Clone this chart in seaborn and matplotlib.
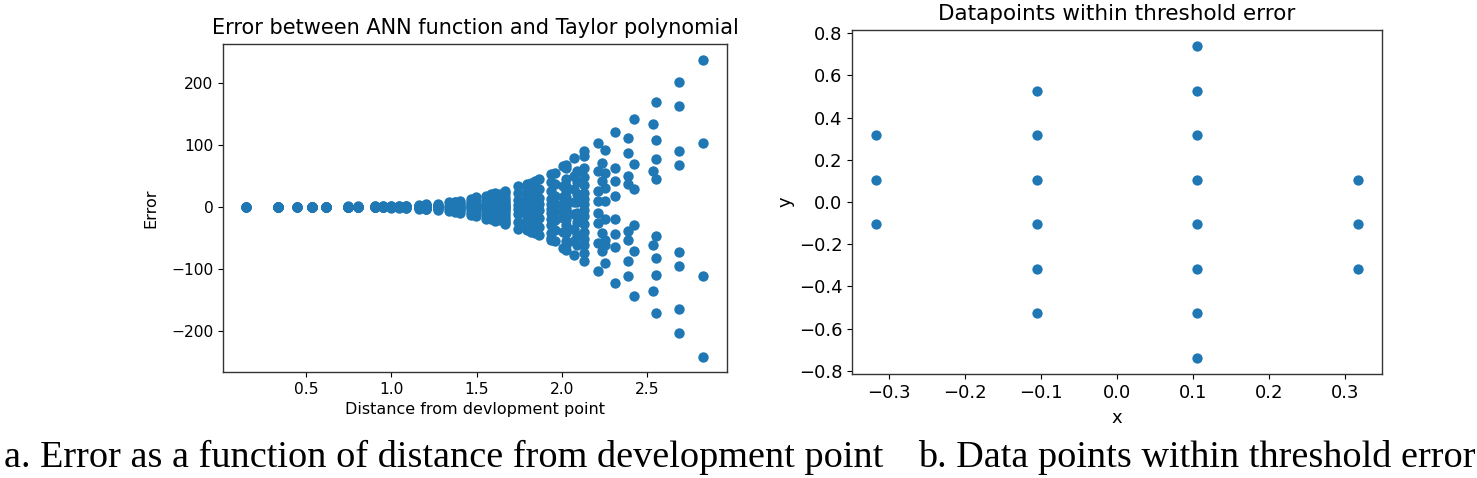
import matplotlib
matplotlib.use("Agg")
import matplotlib.pyplot as plt
import seaborn as sns
import numpy as np
import pandas as pd

# ---------------- data: left panel (distance, list of errors at that distance) ----------------
dist_levels = [0.149, 0.333, 0.447, 0.537, 0.614, 0.744, 0.802, 0.905, 0.953, 0.999,
               1.042, 1.084, 1.163, 1.200, 1.272, 1.340, 1.372, 1.404, 1.466, 1.496,
               1.554, 1.582, 1.610, 1.637, 1.664, 1.742, 1.792, 1.817, 1.841, 1.865,
               1.935, 1.958, 2.003, 2.025, 2.068, 2.089, 2.131, 2.213, 2.233, 2.253,
               2.311, 2.386, 2.423, 2.531, 2.548, 2.684, 2.828]

error_levels = [
    [0.0, 0.0, 0.0, 0.0],
    [0.1, -0.1, 0.1, -0.1, 0.0, 0.0, 0.1, -0.1],
    [0.2, -0.2, 0.1, -0.1],
    [0.3, -0.3, 0.2, -0.2, 0.1, -0.1, 0.0, 0.0],
    [0.4, -0.4, 0.3, -0.3, 0.1, -0.1, 0.2, -0.2],
    [0.6, 0.4, 0.3, 0.1, 0.0, 0.0, -0.1, -0.2, -0.3, -0.4, -0.5, -0.6],
    [0.7, 0.4, 0.2, 0.0, 0.0, -0.2, -0.4, -0.7],
    [0.9, 0.5, 0.2, 0.0, 0.0, -0.2, -0.5, -0.9],
    [1.0, 0.6, 0.2, 0.0, 0.0, -0.2, -0.6, -1.0],
    [1.2, 0.8, 0.3, 0.0, 0.0, -0.3, -0.8, -1.2],
    [1.5, 0.5, -0.5, -1.5],
    [2.0, 1.5, 0.5, 0.0, 0.0, -0.5, -1.5, -2.0],
    [3.0, 2.0, 1.0, 0.0, 0.0, -1.0, -2.0, -3.0],
    [4.0, 3.5, 3.0, 2.0, 1.5, 1.0, 0.5, 0.0, 0.0, -0.5, -1.0, -1.5, -2.0, -3.0, -3.5, -4.0],
    [5.0, 3.0, 1.0, 0.0, 0.0, -1.0, -3.0, -5.0],
    [7.0, 2.0, -2.0, -7.0],
    [8.0, 7.0, 5.0, 3.0, 2.0, 1.0, 0.0, 0.0, 0.0, -1.0, -2.0, -3.0, -5.0, -6.0, -7.0, -8.0],
    [10.0, 6.0, 3.0, 0.0, -1.0, -4.0, -6.0, -10.0],
    [13.0, 8.0, 4.0, 1.0, -1.0, -4.0, -8.0, -13.0],
    [15.0, 9.0, 4.0, 1.0, -1.0, -4.0, -9.0, -15.0],
    [18.0, 11.0, 5.0, 1.0, -1.0, -5.0, -11.0, -19.0],
    [20.0, 13.0, 6.0, 1.0, -1.0, -6.0, -13.0, -20.0],
    [22.0, 14.0, 6.0, 1.0, -2.0, -8.0, -15.0, -23.0],
    [20.0, 6.0, -7.0, -21.0],
    [26.0, 22.0, 16.0, 11.0, 7.0, 4.0, 1.0, 0.0, -1.0, -4.0, -7.0, -11.0, -16.0, -21.0, -24.0, -27.0],
    [34.0, 22.0, 11.0, 3.0, -3.0, -12.0, -24.0, -35.0],
    [37.0, 31.0, 23.0, 15.0, 9.0, 5.0, 2.0, 0.0, -1.0, -4.0, -8.0, -13.0, -20.0, -27.0, -33.0, -38.0],
    [39.0, 22.0, 10.0, 2.0, -4.0, -13.0, -26.0, -40.0],
    [41.0, 25.0, 12.0, 3.0, -5.0, -15.0, -28.0, -42.0],
    [44.0, 28.0, 14.0, 4.0, -6.0, -18.0, -32.0, -45.0],
    [52.0, 40.0, 25.0, 12.0, 4.0, -3.0, -10.0, -20.0, -30.0, -42.0, -50.0, -53.0],
    [55.0, 36.0, 18.0, 5.0, -8.0, -22.0, -38.0, -55.0],
    [65.0, 33.0, 15.0, 5.0, -6.0, -18.0, -40.0, -66.0],
    [68.0, 62.0, 45.0, 33.0, 25.0, 15.0, 8.0, 2.0, -4.0, -12.0, -20.0, -30.0, -42.0, -55.0, -61.0, -69.0],
    [79.0, 50.0, 28.0, 8.0, -12.0, -35.0, -55.0, -77.0],
    [57.0, 40.0, 20.0, 8.0, -10.0, -25.0, -45.0, -62.0],
    [90.0, 82.0, 62.0, 48.0, 35.0, 22.0, 12.0, 4.0, -6.0, -15.0, -28.0, -40.0, -52.0, -61.0, -75.0, -88.0],
    [103.0, 57.0, 25.0, 9.0, -10.0, -26.0, -58.0, -103.0],
    [71.0, 41.0, -42.0, -72.0],
    [92.0, 55.0, 30.0, 10.0, -20.0, -53.0, -61.0, -90.0],
    [120.0, 62.0, 42.0, 17.0, -19.0, -44.0, -65.0, -122.0],
    [111.0, 87.0, 49.0, 36.0, -39.0, -53.0, -88.0, -112.0],
    [142.0, 69.0, 28.0, -30.0, -72.0, -144.0],
    [134.0, 57.0, -61.0, -135.0],
    [169.0, 107.0, 77.0, 44.0, -47.0, -82.0, -110.0, -171.0],
    [201.0, 162.0, 89.0, 68.0, -73.0, -95.0, -165.0, -204.0],
    [237.0, 103.0, -111.0, -242.0],
]

# ---------------- data: right panel ----------------
pts_x = [-0.316, -0.316, -0.316,
         -0.105, -0.105, -0.105, -0.105, -0.105, -0.105,
         0.105, 0.105, 0.105, 0.105, 0.105, 0.105, 0.105, 0.105,
         0.316, 0.316, 0.316]
pts_y = [0.316, 0.105, -0.105,
         0.526, 0.316, 0.105, -0.105, -0.316, -0.526,
         0.737, 0.526, 0.316, 0.105, -0.105, -0.316, -0.526, -0.737,
         0.105, -0.105, -0.316]

x_ticks_right = [-0.3, -0.2, -0.1, 0.0, 0.1, 0.2, 0.3]
y_ticks_right = [-0.8, -0.6, -0.4, -0.2, 0.0, 0.2, 0.4, 0.6, 0.8]
x_ticks_left = [0.5, 1.0, 1.5, 2.0, 2.5]
y_ticks_left = [-200, -100, 0, 100, 200]

# build frames
left_rows = []
for d, errs in zip(dist_levels, error_levels):
    for e in errs:
        left_rows.append((d, e))
df_left = pd.DataFrame(left_rows, columns=["distance", "error"])
df_right = pd.DataFrame({"x": pts_x, "y": pts_y})

plt.rcParams['font.family'] = ['DejaVu Sans']
W, H = 1477, 478
fig = plt.figure(figsize=(W / 100, H / 100), dpi=100)
blue = "#1f77b4"

def frac(l, t, r, b):
    return [l / W, 1 - b / H, (r - l) / W, (b - t) / H]

ax1 = fig.add_axes(frac(223, 44, 727, 372))
sns.scatterplot(data=df_left, x="distance", y="error", ax=ax1, color=blue,
                s=56, linewidth=0, alpha=1)
ax1.set_xticks(x_ticks_left)
ax1.set_yticks(y_ticks_left)
ax1.set_xlim(0.013, 2.967)
ax1.set_ylim(-266, 262)
ax1.set_title("Error between ANN function and Taylor polynomial", fontsize=15, pad=7)
ax1.set_xlabel("Distance from devlopment point", fontsize=11.5, labelpad=4)
ax1.set_ylabel("Error", fontsize=11.5, labelpad=9)
ax1.tick_params(labelsize=11.2)

ax2 = fig.add_axes(frac(852, 30, 1382, 374))
sns.scatterplot(data=df_right, x="x", y="y", ax=ax2, color=blue,
                s=55, linewidth=0, alpha=1)
ax2.set_xticks(x_ticks_right)
ax2.set_yticks(y_ticks_right)
ax2.set_xlim(-0.348, 0.348)
ax2.set_ylim(-0.815, 0.815)
ax2.set_title("Datapoints within threshold error", fontsize=15.5, pad=7)
ax2.set_xlabel("x", fontsize=13, labelpad=5)
ax2.set_ylabel("y", fontsize=13, labelpad=3)
ax2.tick_params(labelsize=13)

for ax in (ax1, ax2):
    for sp in ax.spines.values():
        sp.set_color("#333333")
        sp.set_linewidth(1.0)

fig.text(444 / W, 1 - 467 / H, "a. Error as a function of distance from development point",
         ha="center", va="baseline", fontsize=27.5, family="Liberation Serif")
fig.text(1197 / W, 1 - 467 / H, "b. Data points within threshold error",
         ha="center", va="baseline", fontsize=27.5, family="Liberation Serif")

fig.savefig("out.png", dpi=100, facecolor="white")
